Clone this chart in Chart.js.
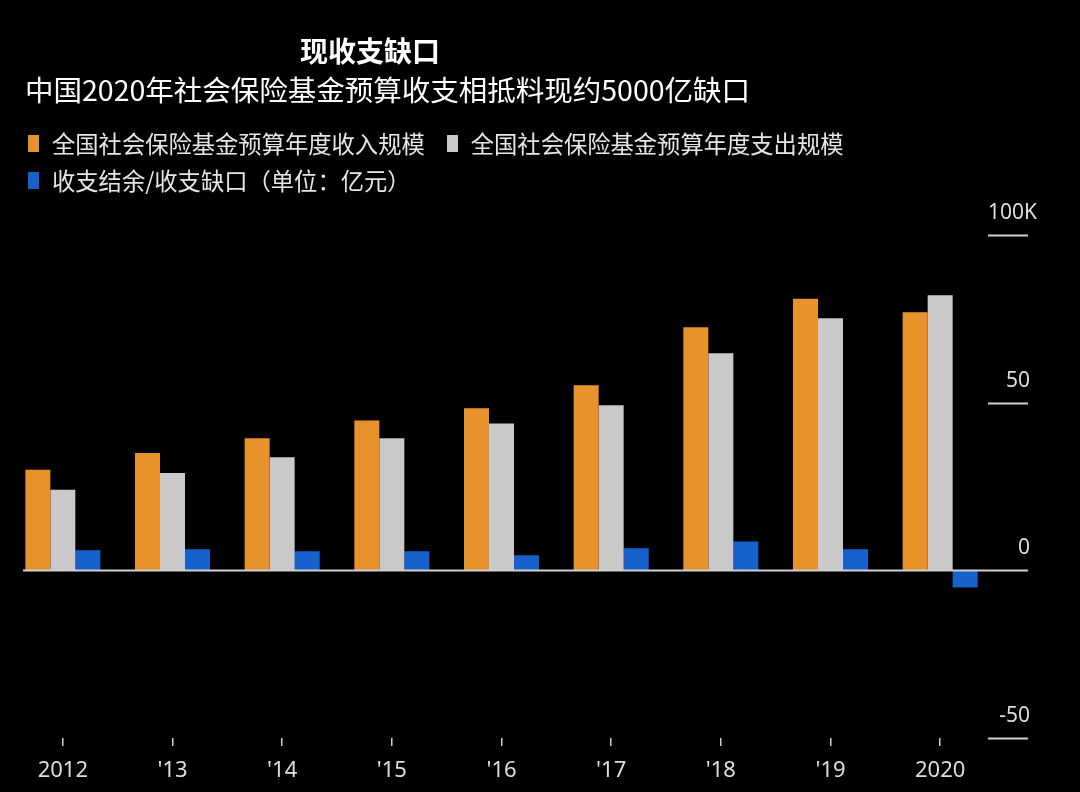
<!DOCTYPE html>
<html>
<head>
<meta charset="utf-8">
<script src="https://cdn.jsdelivr.net/npm/chart.js@4"></script>
<style>
  body { margin: 0; background: #000; width: 1080px; height: 792px; overflow: hidden; position: relative; font-family: "Noto Sans CJK SC", "Noto Sans", sans-serif; color: #fff; }
  #chart { position: absolute; left: 0; top: 0; }
  .title { position: absolute; left: 300px; top: 36px; font-size: 28px; font-weight: bold; line-height: 28px; }
  .subtitle { position: absolute; left: 25px; top: 75px; font-size: 28.5px; line-height: 28px; }
  .legend { position: absolute; left: 28px; font-size: 23.3px; line-height: 24px; color: #e6e6e6; display: flex; align-items: center; }
  .legend .item { display: flex; align-items: center; margin-right: 22px; }
  .legend .box { width: 11px; height: 17px; margin-right: 13px; }
</style>
</head>
<body>
<canvas id="chart" width="1080" height="792"></canvas>
<div class="title">现收支缺口</div>
<div class="subtitle">中国2020年社会保险基金预算收支相抵料现约5000亿缺口</div>
<div class="legend" id="legendRow1" style="top:131px"></div>
<div class="legend" id="legendRow2" style="top:168px"></div>
<script>
// Daten (Einheit: 千亿元, Achse zeigt 100K = 100.000 亿元)
const years = ['2012', "'13", "'14", "'15", "'16", "'17", "'18", "'19", '2020'];
const income = [30, 35, 39.4, 44.7, 48.3, 55.2, 72.5, 81, 77];
const expense = [24, 29, 33.7, 39.4, 43.8, 49.2, 64.7, 75.2, 82];
const balance = [6, 6.3, 5.7, 5.7, 4.5, 6.6, 8.6, 6.3, -5.1];
const yTicks = [100, 50, 0, -50];
const yTickLabels = ['100K', '50', '0', '-50'];
const seriesNames = ['全国社会保险基金预算年度收入规模', '全国社会保险基金预算年度支出规模', '收支结余/收支缺口（单位：亿元）'];
const seriesColors = ['#e8922b', '#c9c9c9', '#1661cc'];

// Legende als HTML
function buildLegend() {
    const rows = [document.getElementById('legendRow1'), document.getElementById('legendRow1'), document.getElementById('legendRow2')];
    seriesNames.forEach((name, i) => {
        const item = document.createElement('div');
        item.className = 'item';
        item.innerHTML = `<span class="box" style="background:${seriesColors[i]}"></span><span>${name}</span>`;
        rows[i].appendChild(item);
    });
}
buildLegend();

// Kurze Gitterlinien rechts + Nulllinie + Achsenbeschriftung
const rightAxisPlugin = {
    id: 'rightAxis',
    afterDatasetsDraw(chart) {
        const ctx = chart.ctx;
        const y = chart.scales.y;
        ctx.save();
        ctx.strokeStyle = '#d0d0d0';
        ctx.lineWidth = 2;
        ctx.fillStyle = '#dedede';
        ctx.font = '21px "Noto Sans", sans-serif';
        ctx.textBaseline = 'middle';
        yTicks.forEach((v, i) => {
            const py = Math.round(y.getPixelForValue(v)) + 0.5;
            const x0 = v === 0 ? chart.chartArea.left + 15 : 988;
            ctx.beginPath();
            ctx.moveTo(x0, py);
            ctx.lineTo(1028, py);
            ctx.stroke();
            if (v === 100) {
                ctx.textAlign = 'left';
                ctx.fillText(yTickLabels[i], 988, py - 22);
            } else {
                ctx.textAlign = 'right';
                ctx.fillText(yTickLabels[i], 1030, py - 22);
            }
        });
        ctx.restore();
    }
};

const chart = new Chart(document.getElementById('chart'), {
    type: 'bar',
    data: {
        labels: years,
        datasets: [
            { label: seriesNames[0], data: income, backgroundColor: seriesColors[0] },
            { label: seriesNames[1], data: expense, backgroundColor: seriesColors[1] },
            { label: seriesNames[2], data: balance, backgroundColor: seriesColors[2] }
        ]
    },
    options: {
        responsive: false,
        animation: false,
        devicePixelRatio: 1,
        layout: { padding: { top: 235, left: 8, right: 85, bottom: 0 } },
        datasets: { bar: { categoryPercentage: 0.684, barPercentage: 1, borderWidth: 0 } },
        plugins: {
            legend: { display: false },
            tooltip: { enabled: false }
        },
        scales: {
            x: {
                grid: { display: true, drawOnChartArea: false, offset: false, tickLength: 8, color: '#cfcfcf', lineWidth: 1.5 },
                border: { display: false },
                ticks: { color: '#dedede', padding: 12, font: { size: 22, family: '"Noto Sans", sans-serif' }, maxRotation: 0, autoSkip: false },
                afterFit(scale) { scale.height = 54; }
            },
            y: {
                display: false,
                min: -50,
                max: 100
            }
        }
    },
    plugins: [rightAxisPlugin]
});
</script>
</body>
</html>
